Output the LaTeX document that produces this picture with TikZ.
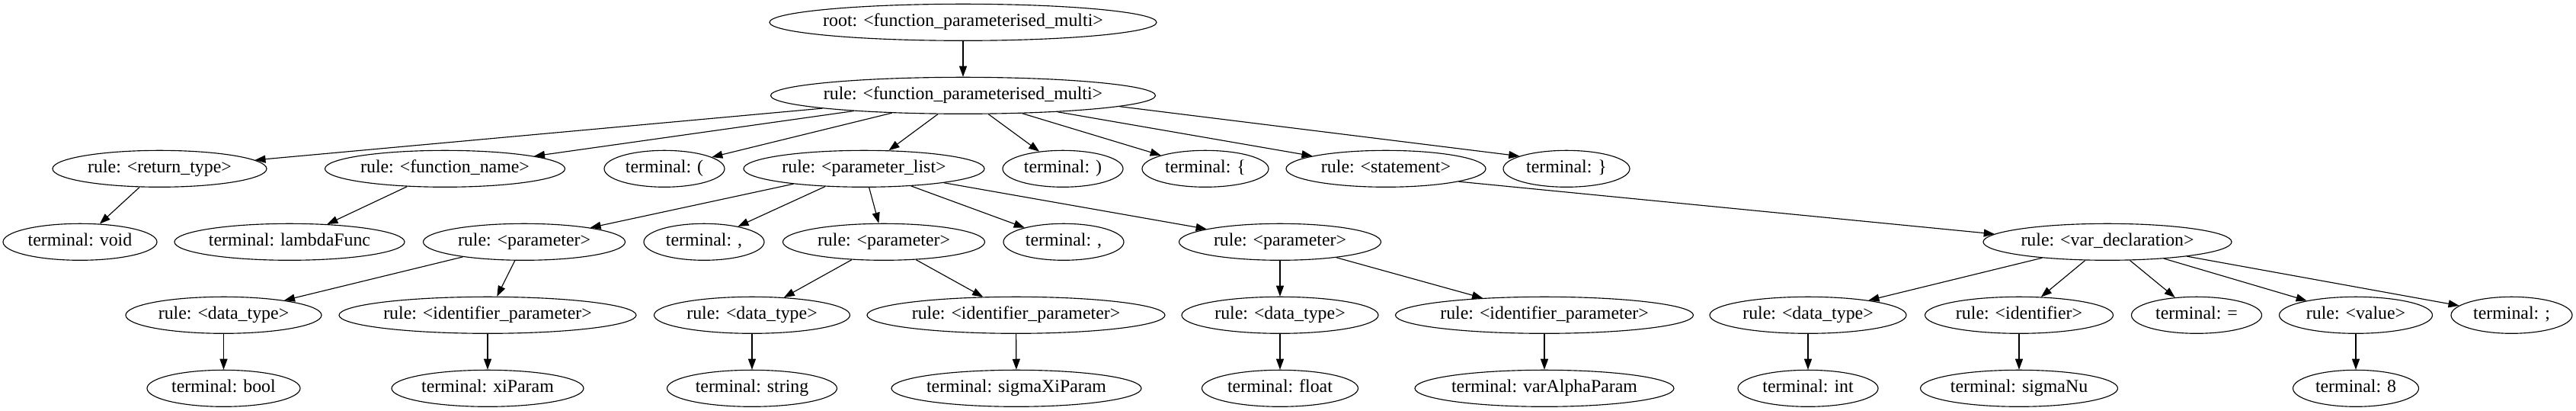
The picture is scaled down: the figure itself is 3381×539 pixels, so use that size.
\documentclass[tikz,border=0pt]{standalone}
\usepackage{fontspec}
\setmainfont{Liberation Serif}
\usetikzlibrary{shapes.geometric,arrows.meta}
\newcommand\gvl[1]{\makebox[0pt]{#1}}
\begin{document}
\begin{tikzpicture}[x=0.75pt,y=-0.75pt,
  gv/.style={ellipse,draw,line width=0.85pt,inner sep=0pt,minimum height=36pt,
    text height=12.5pt,text depth=4pt,font=\fontsize{17.9}{21}\selectfont},
  nw/.style={minimum width={0.75pt*#1}},
  conn/.style={-{Triangle[length=10.5pt,width=7.5pt]},line width=0.85pt}]
\useasboundingbox (0,0) rectangle (3381,539);
% rank 0
\node[gv,nw=508] (root) at (1264,29.3) {\gvl{root: <function\_parameterised\_multi>}};
% rank 1
\node[gv,nw=505] (fpm) at (1264,125.3) {\gvl{rule: <function\_parameterised\_multi>}};
% rank 2
\node[gv,nw=281] (rt) at (209.5,221.3) {\gvl{rule: <return\_type>}};
\node[gv,nw=315] (fn) at (584,221.3) {\gvl{rule: <function\_name>}};
\node[gv,nw=158] (lp) at (872,221.3) {\gvl{terminal: (}};
\node[gv,nw=316] (pl) at (1134,221.3) {\gvl{rule: <parameter\_list>}};
\node[gv,nw=158] (rp) at (1395,221.3) {\gvl{terminal: )}};
\node[gv,nw=166] (lb) at (1582,221.3) {\gvl{terminal: \{}};
\node[gv,nw=262] (st) at (1819,221.3) {\gvl{rule: <statement>}};
\node[gv,nw=166] (rb) at (2056,221.3) {\gvl{terminal: \}}};
% rank 3
\node[gv,nw=202] (tvoid) at (105,317.3) {\gvl{terminal: void}};
\node[gv,nw=302] (tlam) at (380,317.3) {\gvl{terminal: lambdaFunc}};
\node[gv,nw=265] (p1) at (688,317.3) {\gvl{rule: <parameter>}};
\node[gv,nw=158] (c1) at (924,317.3) {\gvl{terminal: ,}};
\node[gv,nw=265] (p2) at (1160,317.3) {\gvl{rule: <parameter>}};
\node[gv,nw=158] (c2) at (1396,317.3) {\gvl{terminal: ,}};
\node[gv,nw=265] (p3) at (1680,317.3) {\gvl{rule: <parameter>}};
\node[gv,nw=326] (vd) at (2766,317.3) {\gvl{rule: <var\_declaration>}};
% rank 4
\node[gv,nw=257] (dt1) at (293.5,413.3) {\gvl{rule: <data\_type>}};
\node[gv,nw=390] (ip1) at (640,413.3) {\gvl{rule: <identifier\_parameter>}};
\node[gv,nw=257] (dt2) at (987,413.3) {\gvl{rule: <data\_type>}};
\node[gv,nw=391] (ip2) at (1333.5,413.3) {\gvl{rule: <identifier\_parameter>}};
\node[gv,nw=258] (dt3) at (1680,413.3) {\gvl{rule: <data\_type>}};
\node[gv,nw=391] (ip3) at (2027,413.3) {\gvl{rule: <identifier\_parameter>}};
\node[gv,nw=258] (dt4) at (2373,413.3) {\gvl{rule: <data\_type>}};
\node[gv,nw=247] (id) at (2650,413.3) {\gvl{rule: <identifier>}};
\node[gv,nw=171] (eq) at (2883,413.3) {\gvl{terminal: =}};
\node[gv,nw=201] (val) at (3092,413.3) {\gvl{rule: <value>}};
\node[gv,nw=159] (sc) at (3296.5,413.3) {\gvl{terminal: ;}};
% rank 5
\node[gv,nw=201] (tbool) at (293.5,509.3) {\gvl{terminal: bool}};
\node[gv,nw=252] (txi) at (640,509.3) {\gvl{terminal: xiParam}};
\node[gv,nw=223] (tstr) at (987,509.3) {\gvl{terminal: string}};
\node[gv,nw=328] (tsxi) at (1334,509.3) {\gvl{terminal: sigmaXiParam}};
\node[gv,nw=205] (tflt) at (1680,509.3) {\gvl{terminal: float}};
\node[gv,nw=340] (tvap) at (2027,509.3) {\gvl{terminal: varAlphaParam}};
\node[gv,nw=184] (tint) at (2373,509.3) {\gvl{terminal: int}};
\node[gv,nw=259] (tsnu) at (2650,509.3) {\gvl{terminal: sigmaNu}};
\node[gv,nw=165] (t8) at (3092,509.3) {\gvl{terminal: 8}};
% edges
\foreach \a/\b in {root/fpm, fpm/rt, fpm/fn, fpm/lp, fpm/pl, fpm/rp, fpm/lb, fpm/st,
  rt/tvoid, fn/tlam, pl/p1, pl/c1, pl/p2, pl/c2, pl/p3,
  p1/dt1, p1/ip1, p2/dt2, p2/ip2, p3/dt3, p3/ip3,
  vd/dt4, vd/id, vd/eq, vd/val, vd/sc,
  dt1/tbool, ip1/txi, dt2/tstr, ip2/tsxi, dt3/tflt, ip3/tvap, dt4/tint, id/tsnu, val/t8}
  \draw[conn] (\a) -- (\b);
\draw[conn] (fpm.-4) -- (rb.165);
\draw[conn] (st.-10.7) -- (vd.176.4);
\end{tikzpicture}
\end{document}
